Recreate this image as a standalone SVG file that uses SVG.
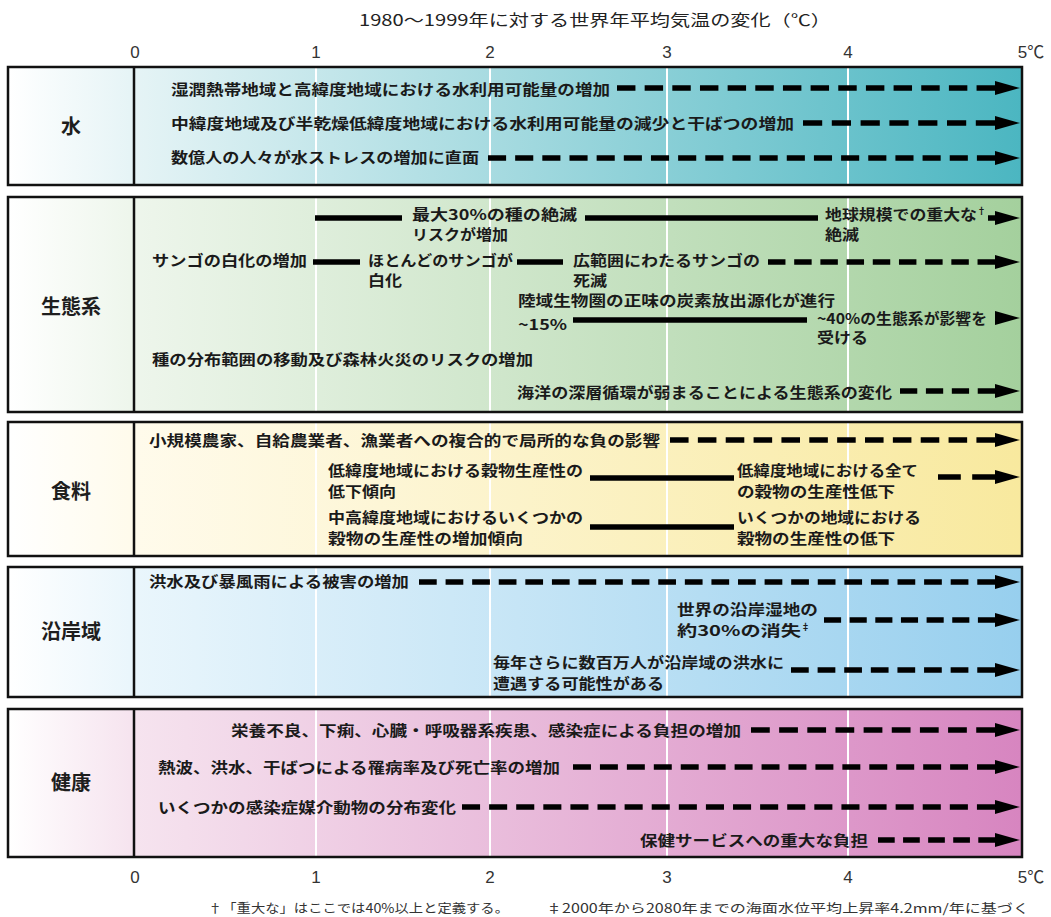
<svg xmlns="http://www.w3.org/2000/svg" width="1051" height="917" viewBox="0 0 1051 917">
<style>
.t{font-family:'Noto Sans CJK JP',sans-serif;font-size:14.5px;font-weight:bold;fill:#1a1a1a}
.sup{font-size:9px}
.lbl{font-family:'Noto Sans CJK JP',sans-serif;font-size:20px;font-weight:bold;fill:#1e1e1e;text-anchor:middle}
.ax{font-family:'Liberation Sans','Noto Sans CJK JP',sans-serif;font-size:17px;fill:#333;text-anchor:middle}
.ttl{font-family:'Noto Sans CJK JP',sans-serif;font-size:15.5px;fill:#222}
.fn{font-family:'Noto Sans CJK JP',sans-serif;font-size:12.5px;fill:#333}
.pan{stroke:#111;stroke-width:2.5}
.div{stroke:#111;stroke-width:2.5}
.grid{stroke:#fff;stroke-width:2}
.dash{stroke:#000;stroke-width:5.5;stroke-dasharray:18 9;fill:none;marker-start:url(#ahr)}
.sol{stroke:#000;stroke-width:5.5;fill:none}
.sola{stroke:#000;stroke-width:5.5;fill:none;marker-end:url(#ah)}
</style>
<defs>
<marker id="ahr" markerUnits="userSpaceOnUse" markerWidth="26" markerHeight="16" viewBox="0 0 26 16" refX="0" refY="8" orient="auto-start-reverse"><path d="M0,1 L25,8 L0,15 z" fill="#000"/></marker>
<marker id="ah" markerUnits="userSpaceOnUse" markerWidth="26" markerHeight="16" viewBox="0 0 26 16" refX="0" refY="8" orient="auto"><path d="M0,1 L25,8 L0,15 z" fill="#000"/></marker>
<linearGradient id="gW" gradientUnits="userSpaceOnUse" x1="8" y1="0" x2="1022" y2="0"><stop offset="0" stop-color="#ffffff"/><stop offset="0.12" stop-color="#e6f4f6"/><stop offset="1" stop-color="#4bb6c1"/></linearGradient>
<linearGradient id="gE" gradientUnits="userSpaceOnUse" x1="8" y1="0" x2="1022" y2="0"><stop offset="0" stop-color="#ffffff"/><stop offset="0.12" stop-color="#eef6ec"/><stop offset="1" stop-color="#a4d09d"/></linearGradient>
<linearGradient id="gF" gradientUnits="userSpaceOnUse" x1="8" y1="0" x2="1022" y2="0"><stop offset="0" stop-color="#ffffff"/><stop offset="0.12" stop-color="#fffbec"/><stop offset="1" stop-color="#f8e99e"/></linearGradient>
<linearGradient id="gC" gradientUnits="userSpaceOnUse" x1="8" y1="0" x2="1022" y2="0"><stop offset="0" stop-color="#ffffff"/><stop offset="0.12" stop-color="#eaf6fc"/><stop offset="1" stop-color="#97cfee"/></linearGradient>
<linearGradient id="gH" gradientUnits="userSpaceOnUse" x1="8" y1="0" x2="1022" y2="0"><stop offset="0" stop-color="#ffffff"/><stop offset="0.12" stop-color="#f6e4ef"/><stop offset="1" stop-color="#d785c0"/></linearGradient>
</defs>
<rect width="1051" height="917" fill="#fff"/>

<g id="axis">
<text class="ttl" x="359" y="26" textLength="472" lengthAdjust="spacingAndGlyphs">1980～1999年に対する世界年平均気温の変化（℃）</text>
<text class="ax" x="135" y="58">0</text><text class="ax" x="316" y="58">1</text><text class="ax" x="490" y="58">2</text><text class="ax" x="667" y="58">3</text><text class="ax" x="848" y="58">4</text><text class="ax" x="1031" y="58">5℃</text>
<text class="ax" x="135" y="883">0</text><text class="ax" x="316" y="883">1</text><text class="ax" x="490" y="883">2</text><text class="ax" x="667" y="883">3</text><text class="ax" x="848" y="883">4</text><text class="ax" x="1031" y="883">5℃</text>
</g>

<g id="panels-bg">
<rect x="8" y="67" width="1014" height="118" fill="url(#gW)"/>
<rect x="8" y="197" width="1014" height="215" fill="url(#gE)"/>
<rect x="8" y="422" width="1014" height="134" fill="url(#gF)"/>
<rect x="8" y="567" width="1014" height="130" fill="url(#gC)"/>
<rect x="8" y="709" width="1014" height="148" fill="url(#gH)"/>
<g class="grid">
<line x1="316" y1="67" x2="316" y2="857"/><line x1="490" y1="67" x2="490" y2="857"/><line x1="667" y1="67" x2="667" y2="857"/><line x1="848" y1="67" x2="848" y2="857"/>
</g>
</g>

<g id="water">
<rect class="pan" x="8" y="67" width="1014" height="118" fill="none"/>
<line class="div" x1="134" y1="67" x2="134" y2="185"/>
<text class="lbl" x="71" y="134">水</text>
<text class="t" x="171" y="94.5" textLength="439" lengthAdjust="spacingAndGlyphs">湿潤熱帯地域と高緯度地域における水利用可能量の増加</text>
<text class="t" x="171" y="128.5" textLength="623" lengthAdjust="spacingAndGlyphs">中緯度地域及び半乾燥低緯度地域における水利用可能量の減少と干ばつの増加</text>
<text class="t" x="171" y="163" textLength="308" lengthAdjust="spacingAndGlyphs">数億人の人々が水ストレスの増加に直面</text>
</g>

<g id="ecosystem">
<rect class="pan" x="8" y="197" width="1014" height="215" fill="none"/>
<line class="div" x1="134" y1="197" x2="134" y2="412"/>
<text class="lbl" x="71" y="314">生態系</text>
<text class="t" x="412" y="219.5" textLength="165" lengthAdjust="spacingAndGlyphs">最大30%の種の絶滅</text>
<text class="t" x="412" y="239.5" textLength="96" lengthAdjust="spacingAndGlyphs">リスクが増加</text>
<text class="t" x="825" y="219.5"><tspan textLength="152" lengthAdjust="spacingAndGlyphs">地球規模での重大な</tspan><tspan class="sup" dy="-6">†</tspan></text>
<text class="t" x="825" y="239.5" textLength="34" lengthAdjust="spacingAndGlyphs">絶滅</text>
<text class="t" x="152" y="265.5" textLength="155" lengthAdjust="spacingAndGlyphs">サンゴの白化の増加</text>
<text class="t" x="368" y="265.5" textLength="145" lengthAdjust="spacingAndGlyphs">ほとんどのサンゴが</text>
<text class="t" x="368" y="285.5" textLength="34" lengthAdjust="spacingAndGlyphs">白化</text>
<text class="t" x="573" y="265.5" textLength="187" lengthAdjust="spacingAndGlyphs">広範囲にわたるサンゴの</text>
<text class="t" x="573" y="285.5" textLength="34" lengthAdjust="spacingAndGlyphs">死滅</text>
<text class="t" x="518" y="306" textLength="317" lengthAdjust="spacingAndGlyphs">陸域生物圏の正味の炭素放出源化が進行</text>
<text class="t" x="518" y="330" textLength="49" lengthAdjust="spacingAndGlyphs">~15%</text>
<text class="t" x="817" y="324" textLength="170" lengthAdjust="spacingAndGlyphs">~40%の生態系が影響を</text>
<text class="t" x="817" y="343" textLength="51" lengthAdjust="spacingAndGlyphs">受ける</text>
<text class="t" x="152" y="364.5" textLength="381" lengthAdjust="spacingAndGlyphs">種の分布範囲の移動及び森林火災のリスクの増加</text>
<text class="t" x="517" y="397.5" textLength="375" lengthAdjust="spacingAndGlyphs">海洋の深層循環が弱まることによる生態系の変化</text>
</g>

<g id="food">
<rect class="pan" x="8" y="422" width="1014" height="134" fill="none"/>
<line class="div" x1="134" y1="422" x2="134" y2="556"/>
<text class="lbl" x="71" y="499">食料</text>
<text class="t" x="149" y="445.5" textLength="511" lengthAdjust="spacingAndGlyphs">小規模農家、自給農業者、漁業者への複合的で局所的な負の影響</text>
<text class="t" x="328" y="475.5" textLength="255" lengthAdjust="spacingAndGlyphs">低緯度地域における穀物生産性の</text>
<text class="t" x="328" y="497" textLength="68" lengthAdjust="spacingAndGlyphs">低下傾向</text>
<text class="t" x="737" y="475.5" textLength="181" lengthAdjust="spacingAndGlyphs">低緯度地域における全て</text>
<text class="t" x="737" y="497" textLength="158" lengthAdjust="spacingAndGlyphs">の穀物の生産性低下</text>
<text class="t" x="328" y="522.5" textLength="255" lengthAdjust="spacingAndGlyphs">中高緯度地域におけるいくつかの</text>
<text class="t" x="328" y="543.5" textLength="195" lengthAdjust="spacingAndGlyphs">穀物の生産性の増加傾向</text>
<text class="t" x="737" y="522.5" textLength="184" lengthAdjust="spacingAndGlyphs">いくつかの地域における</text>
<text class="t" x="737" y="543.5" textLength="158" lengthAdjust="spacingAndGlyphs">穀物の生産性の低下</text>
</g>

<g id="coast">
<rect class="pan" x="8" y="567" width="1014" height="130" fill="none"/>
<line class="div" x1="134" y1="567" x2="134" y2="697"/>
<text class="lbl" x="71" y="639">沿岸域</text>
<text class="t" x="149" y="587" textLength="260" lengthAdjust="spacingAndGlyphs">洪水及び暴風雨による被害の増加</text>
<text class="t" x="677" y="615" textLength="141" lengthAdjust="spacingAndGlyphs">世界の沿岸湿地の</text>
<text class="t" x="677" y="636"><tspan textLength="124" lengthAdjust="spacingAndGlyphs">約30%の消失</tspan><tspan class="sup" dy="-6">‡</tspan></text>
<text class="t" x="493" y="668" textLength="291" lengthAdjust="spacingAndGlyphs">毎年さらに数百万人が沿岸域の洪水に</text>
<text class="t" x="493" y="689" textLength="171" lengthAdjust="spacingAndGlyphs">遭遇する可能性がある</text>
</g>

<g id="health">
<rect class="pan" x="8" y="709" width="1014" height="148" fill="none"/>
<line class="div" x1="134" y1="709" x2="134" y2="857"/>
<text class="lbl" x="71" y="790">健康</text>
<text class="t" x="231" y="735.5" textLength="510" lengthAdjust="spacingAndGlyphs">栄養不良、下痢、心臓・呼吸器系疾患、感染症による負担の増加</text>
<text class="t" x="158" y="772.5" textLength="402" lengthAdjust="spacingAndGlyphs">熱波、洪水、干ばつによる罹病率及び死亡率の増加</text>
<text class="t" x="158" y="812.5" textLength="298" lengthAdjust="spacingAndGlyphs">いくつかの感染症媒介動物の分布変化</text>
<text class="t" x="640" y="845.5" textLength="228" lengthAdjust="spacingAndGlyphs">保健サービスへの重大な負担</text>
</g>

<g id="connectors">
<path class="dash" pathLength="369" d="M995,88 H617"/>
<path class="dash" pathLength="180" d="M995,123 H803"/>
<path class="dash" pathLength="504" d="M995,158 H488"/>
<path class="sol" d="M315,218 H402"/>
<path class="sol" d="M585,218 H818"/>
<path class="sola" d="M988,218 H995"/>
<path class="sol" d="M313,262 H360"/>
<path class="sol" d="M517,262 H563"/>
<path class="dash" pathLength="234" d="M995,262 H768"/>
<path class="sol" d="M573,320 H807"/>
<path d="M995,311 L1020,318 L995,325 z" fill="#000"/>
<path class="dash" pathLength="99" d="M995,391 H900"/>
<path class="dash" pathLength="315" d="M995,440 H670"/>
<path class="sol" d="M590,478 H734"/>
<path class="dash" pathLength="45" d="M995,477 H938"/>
<path class="sol" d="M590,527 H734"/>
<path class="dash" pathLength="585" d="M995,582 H419"/>
<path class="dash" pathLength="180" d="M995,620 H824"/>
<path class="dash" pathLength="207" d="M995,670 H791"/>
<path class="dash" pathLength="234" d="M995,730 H751"/>
<path class="dash" pathLength="423" d="M995,767 H573"/>
<path class="dash" pathLength="531" d="M995,807 H462"/>
<path class="dash" pathLength="126" d="M995,840 H878"/>
</g>

<g id="footnote">
<text class="fn" x="208" y="913" textLength="301" lengthAdjust="spacingAndGlyphs">†「重大な」はここでは40%以上と定義する。</text>
<text class="fn" x="546" y="913" textLength="483" lengthAdjust="spacingAndGlyphs">‡2000年から2080年までの海面水位平均上昇率4.2mm/年に基づく</text>
</g>
</svg>
